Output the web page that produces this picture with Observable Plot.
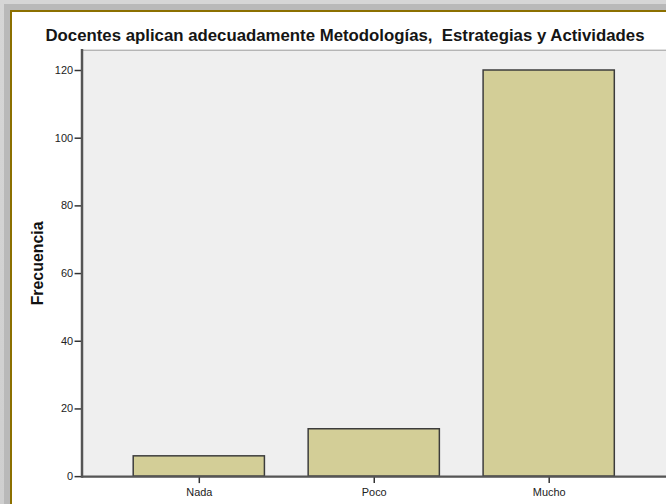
<!DOCTYPE html>
<html>
<head>
<meta charset="utf-8">
<script src="https://cdn.jsdelivr.net/npm/d3@7"></script>
<script src="https://cdn.jsdelivr.net/npm/@observablehq/plot@0.6"></script>
<style>
  html, body { margin: 0; padding: 0; width: 666px; height: 504px; overflow: hidden; }
  body { background: linear-gradient(#d6d6d6, #cfcfcf); font-family: "Liberation Sans", Arial, sans-serif; position: relative; }
  #shade { position: absolute; left: 4px; top: 4px; width: 700px; height: 520px; background: #b9b9b9; }
  #panel { position: absolute; left: 10px; top: 10px; width: 700px; height: 520px; background: #fff; border-left: 2px solid #8c7000; border-top: 2px solid #8c7000; }
  #title { position: absolute; left: 0; top: 26px; width: 690px; text-align: center; font-size: 16.8px; font-weight: bold; color: #151515; white-space: pre; }
  #chart { position: absolute; left: 0; top: 0; }
</style>
</head>
<body>
<div id="shade"></div>
<div id="panel"></div>
<div id="title">Docentes aplican adecuadamente Metodologías,  Estrategias y Actividades</div>
<div id="chart"></div>
<script>
const categories = ["Nada", "Poco", "Mucho"];
const frecuencias = [6, 14, 120];
const yTicks = [0, 20, 40, 60, 80, 100, 120];
const yLabel = "Frecuencia";

const data = categories.map((c, i) => ({categoria: c, frecuencia: frecuencias[i]}));

const chart = Plot.plot({
  width: 670,
  height: 504,
  marginLeft: 82,
  marginRight: 0,
  marginTop: 50,
  marginBottom: 25,
  style: {background: "transparent", fontFamily: "'Liberation Sans', Arial, sans-serif", fontSize: "11px", color: "#222"},
  x: {domain: categories, paddingInner: 0.25, paddingOuter: 0.295, label: null},
  y: {domain: [0, 126], label: null},
  marks: [
    Plot.frame({fill: "#efefef", stroke: "#9a9a9a"}),
    Plot.barY(data, {x: "categoria", y: "frecuencia", fill: "#d3ce97", stroke: "#3c3c3c", strokeWidth: 1.5}),
    Plot.axisY({ticks: yTicks, tickSize: 7, tickPadding: 2, tickFormat: d => d, stroke: "#333", strokeWidth: 1.5, label: null}),
    Plot.axisX({tickSize: 7, tickPadding: 5, stroke: "#333", strokeWidth: 1.5, label: null}),
    Plot.frame({anchor: "left", stroke: "#555", strokeWidth: 2.5}),
    Plot.ruleY([0], {stroke: "#555", strokeWidth: 2.5}),
    Plot.text([yLabel], {frameAnchor: "left", dx: -44, rotate: -90, textAnchor: "middle", lineAnchor: "middle", fontWeight: "bold", fontSize: 16, fill: "#111"})
  ]
});
document.getElementById("chart").appendChild(chart);
</script>
</body>
</html>
